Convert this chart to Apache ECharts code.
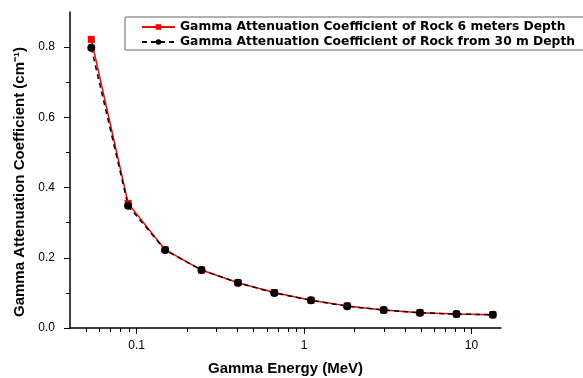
<!DOCTYPE html>
<html lang="en">
<head>
    <meta charset="utf-8">
    <title>Gamma Attenuation</title>
    <script src="https://cdn.jsdelivr.net/npm/echarts@6/dist/echarts.min.js"></script>
</head>
<body style="margin:0;">

    <div id="main" style="width:583px;height:378px;"></div>

<script type="text/javascript">

    // energies (MeV)
    var energy = [0.0536, 0.089, 0.148, 0.244, 0.403, 0.664, 1.10, 1.81, 2.99, 4.92, 8.13, 13.4];
    var rock6m = [0.822, 0.355, 0.223, 0.165, 0.129, 0.101, 0.079, 0.063, 0.051, 0.0435, 0.0396, 0.0378];
    var rock30m = [0.798, 0.348, 0.222, 0.165, 0.129, 0.100, 0.079, 0.062, 0.051, 0.0435, 0.0396, 0.0378];

    var xMajor = [0.1, 1, 10];
    var xMinor = [0.05, 0.06, 0.07, 0.08, 0.09, 0.2, 0.3, 0.4, 0.5, 0.6, 0.7, 0.8, 0.9,
                  2, 3, 4, 5, 6, 7, 8, 9];
    var yMajor = [0, 0.2, 0.4, 0.6, 0.8];
    var yMinor = [0.1, 0.3, 0.5, 0.7];

    var names = ['Gamma Attenuation Coefficient of Rock 6 meters Depth',
                 'Gamma Attenuation Coefficient of Rock from 30 m Depth'];

    function pairs(xs, ys) {
        var out = [];
        for (var i = 0; i < xs.length; i++) out.push([xs[i], ys[i]]);
        return out;
    }

    var myChart = echarts.init(document.getElementById('main'));

    var font = 'Arial, "Liberation Sans", sans-serif';

    option = {
        backgroundColor: '#ffffff',
        animation: false,
        textStyle: { fontFamily: font },
        grid: { left: 70, right: 82, top: 12, bottom: 50, outerBoundsMode: 'none' },
        legend: {
            orient: 'vertical',
            left: 125,
            top: 17,
            itemWidth: 33,
            itemHeight: 7,
            itemGap: 3,
            padding: [4, 20, 2, 16],
            borderColor: '#666',
            borderWidth: 1,
            textStyle: { fontWeight: 'bold', fontSize: 12.3, color: '#000', fontFamily: '"DejaVu Sans", sans-serif' },
            data: names
        },
        xAxis: [{
            type: 'log',
            min: 0.04,
            max: 15,
            name: 'Gamma Energy (MeV)',
            nameLocation: 'middle',
            nameGap: 33,
            nameTextStyle: { fontWeight: 'bold', fontSize: 15, color: '#000' },
            axisLine: { lineStyle: { color: '#000', width: 1.5 } },
            axisTick: { customValues: xMajor, length: 6, lineStyle: { color: '#000' } },
            axisLabel: { customValues: xMajor, color: '#000', fontSize: 12, margin: 12 },
            splitLine: { show: false }
        }, {
            type: 'log',
            min: 0.04,
            max: 15,
            position: 'bottom',
            axisLine: { show: false },
            axisTick: { customValues: xMinor, length: 4, lineStyle: { color: '#000' } },
            axisLabel: { show: false },
            splitLine: { show: false }
        }],
        yAxis: [{
            type: 'value',
            min: 0,
            max: 0.9,
            name: 'Gamma Attenuation Coefficient (cm\u207B\u00B9)',
            nameLocation: 'middle',
            nameGap: 42,
            nameTextStyle: { fontWeight: 'bold', fontSize: 15, color: '#000', padding: [0, 24, 0, 0] },
            axisLine: { show: true, lineStyle: { color: '#000', width: 1.5 } },
            axisTick: { show: true, customValues: yMajor, length: 6, lineStyle: { color: '#000' } },
            axisLabel: {
                customValues: yMajor, color: '#000', fontSize: 12, margin: 15,
                formatter: function (v) { return v.toFixed(1); }
            },
            splitLine: { show: false }
        }, {
            type: 'value',
            min: 0,
            max: 0.9,
            position: 'left',
            axisLine: { show: false },
            axisTick: { show: true, customValues: yMinor, length: 4, lineStyle: { color: '#000' } },
            axisLabel: { show: false },
            splitLine: { show: false }
        }],
        series: [{
            name: names[0],
            type: 'line',
            data: pairs(energy, rock6m),
            symbol: 'rect',
            symbolSize: 7,
            itemStyle: { color: '#ff0000' },
            lineStyle: { color: '#ff0000', width: 1.5 }
        }, {
            name: names[1],
            type: 'line',
            data: pairs(energy, rock30m),
            symbol: 'circle',
            symbolSize: 8,
            itemStyle: { color: '#000' },
            lineStyle: { color: '#000', width: 1.5, type: [5, 4] }
        }]
    };

    myChart.setOption(option);

</script>

</body>
</html>
